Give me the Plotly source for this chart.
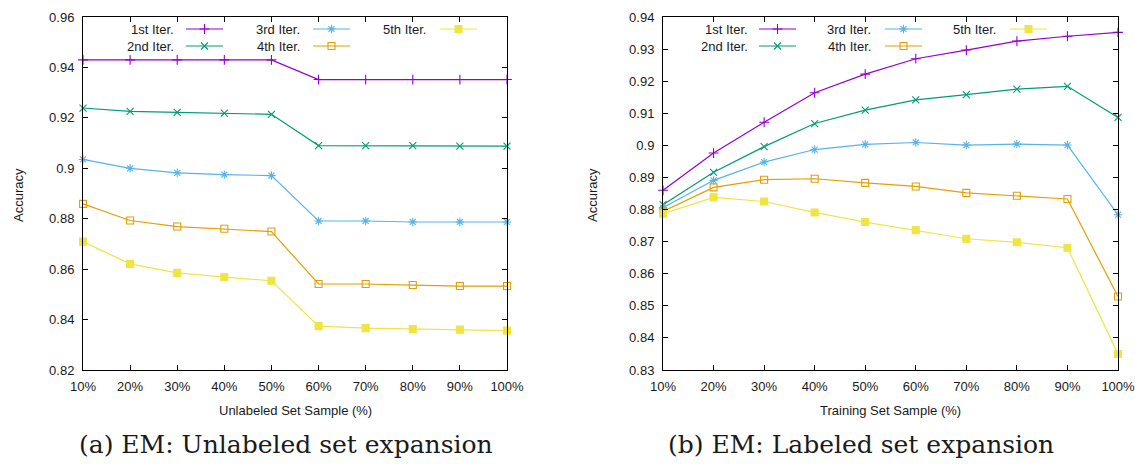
import plotly.graph_objects as go

# ---- data -------------------------------------------------------------
sample_pct = [10, 20, 30, 40, 50, 60, 70, 80, 90, 100]
sample_labels = ["10%", "20%", "30%", "40%", "50%", "60%", "70%", "80%", "90%", "100%"]

iter_names = ["1st Iter.", "2nd Iter.", "3rd Iter.", "4th Iter.", "5th Iter."]

# (a) unlabeled set expansion
unl_iter1 = [0.9430, 0.9430, 0.9430, 0.9430, 0.9430, 0.9352, 0.9352, 0.9352, 0.9352, 0.9352]
unl_iter2 = [0.9239, 0.9226, 0.9222, 0.9219, 0.9214, 0.9090, 0.9090, 0.9090, 0.9088, 0.9088]
unl_iter3 = [0.9035, 0.9000, 0.8982, 0.8975, 0.8971, 0.8791, 0.8791, 0.8787, 0.8787, 0.8787]
unl_iter4 = [0.8859, 0.8793, 0.8769, 0.8760, 0.8749, 0.8541, 0.8541, 0.8537, 0.8533, 0.8533]
unl_iter5 = [0.8709, 0.8621, 0.8585, 0.8568, 0.8554, 0.8374, 0.8366, 0.8362, 0.8360, 0.8356]

# (b) labeled set expansion
lab_iter1 = [0.8860, 0.8976, 0.9072, 0.9164, 0.9222, 0.9270, 0.9297, 0.9325, 0.9340, 0.9352]
lab_iter2 = [0.8815, 0.8916, 0.8996, 0.9068, 0.9110, 0.9142, 0.9158, 0.9175, 0.9184, 0.9087]
lab_iter3 = [0.8806, 0.8891, 0.8948, 0.8987, 0.9003, 0.9009, 0.9001, 0.9004, 0.9001, 0.8784]
lab_iter4 = [0.8794, 0.8869, 0.8893, 0.8896, 0.8883, 0.8872, 0.8852, 0.8843, 0.8833, 0.8529]
lab_iter5 = [0.8787, 0.8838, 0.8825, 0.8791, 0.8761, 0.8736, 0.8709, 0.8698, 0.8681, 0.8350]

unl_ticks = [0.82, 0.84, 0.86, 0.88, 0.90, 0.92, 0.94, 0.96]
unl_ticktext = ["0.82", "0.84", "0.86", "0.88", "0.9", "0.92", "0.94", "0.96"]
lab_ticks = [0.83, 0.84, 0.85, 0.86, 0.87, 0.88, 0.89, 0.90, 0.91, 0.92, 0.93, 0.94]
lab_ticktext = ["0.83", "0.84", "0.85", "0.86", "0.87", "0.88", "0.89", "0.9",
                "0.91", "0.92", "0.93", "0.94"]

# ---- styling ------------------------------------------------------------
W, H = 1135, 472
colors = ["#9400D3", "#009E73", "#56B4E9", "#E69F00", "#F0E442"]
symbols = ["cross-thin", "x-thin", "asterisk", "square-open", "square"]
sizes = [7, 7, 7, 7, 7]
SANS = "Liberation Sans, Arial, sans-serif"
SERIF = "DejaVu Serif, serif"
TXT = "#1a1a1a"

# plot boxes in pixels: (left, right, top, bottom)
box_a = (83, 507, 17, 370)
box_b = (663, 1118, 17, 370)


def dom_x(b):
    return [b[0] / W, b[1] / W]


def dom_y(b):
    return [(H - b[3]) / H, (H - b[2]) / H]


def marker_of(i):
    return dict(symbol=symbols[i], size=sizes[i], color=colors[i],
                line=dict(color=colors[i], width=1.1))


fig = go.Figure()

panels = [
    ("x", "y", [unl_iter1, unl_iter2, unl_iter3, unl_iter4, unl_iter5]),
    ("x2", "y2", [lab_iter1, lab_iter2, lab_iter3, lab_iter4, lab_iter5]),
]
for xa, ya, series in panels:
    for i, vals in enumerate(series):
        fig.add_trace(go.Scatter(
            x=sample_pct, y=vals, name=iter_names[i], mode="lines+markers",
            xaxis=xa, yaxis=ya, showlegend=False, cliponaxis=False,
            line=dict(color=colors[i], width=1.2), marker=marker_of(i)))

# ---- in-plot keys (text on the left, sample on the right) ------------------
key_a = [(176, 186, 223), (302, 313, 350), (428, 440, 477)]
key_b = [(750, 759, 796), (873, 885, 922), (998, 1010, 1047)]
key_slots = [(0, 0), (0, 1), (1, 0), (1, 1), (2, 0)]  # (column, row) per series
key_row_px = [29, 46]

annotations = []
for xa, ya, cols in [("x3", "y3", key_a), ("x4", "y4", key_b)]:
    for i, (c, r) in enumerate(key_slots):
        t_end, l0, l1 = cols[c]
        yy = H - key_row_px[r]
        fig.add_trace(go.Scatter(
            x=[l0, l1], y=[yy, yy], mode="lines", xaxis=xa, yaxis=ya,
            showlegend=False, hoverinfo="skip", cliponaxis=False,
            line=dict(color=colors[i], width=1.2)))
        fig.add_trace(go.Scatter(
            x=[(l0 + l1) / 2], y=[yy], mode="markers", xaxis=xa, yaxis=ya,
            showlegend=False, hoverinfo="skip", cliponaxis=False,
            marker=marker_of(i)))
        annotations.append(dict(
            x=t_end, y=yy, xref=xa, yref=ya, text=iter_names[i],
            showarrow=False, xanchor="right", yanchor="middle",
            font=dict(family=SANS, size=13, color=TXT)))


def paper_text(px, py, text, font, angle=0):
    return dict(x=px / W, y=1 - py / H, xref="paper", yref="paper", text=text,
                textangle=angle, showarrow=False, xanchor="center",
                yanchor="middle", font=font)


label_font = dict(family=SANS, size=13, color=TXT)
caption_font = dict(family=SERIF, size=25, color=TXT)
annotations += [
    paper_text(18, 195, "Accuracy", label_font, -90),
    paper_text(592, 195, "Accuracy", label_font, -90),
    paper_text(295, 410, "Unlabeled Set Sample (%)", label_font),
    paper_text(890, 410, "Training Set Sample (%)", label_font),
    paper_text(286, 444, "(a) EM: Unlabeled set expansion", caption_font),
    paper_text(861, 444, "(b) EM: Labeled set expansion", caption_font),
]

axis_common = dict(showline=True, linecolor="black", linewidth=1, mirror="ticks",
                   ticks="inside", ticklen=5, tickwidth=1, tickcolor="black",
                   showgrid=False, zeroline=False, automargin=False,
                   ticklabeloverflow="allow",
                   tickfont=dict(family=SANS, size=13, color=TXT))
hidden = dict(visible=False, automargin=False, showgrid=False, zeroline=False)

fig.update_layout(
    template="none",
    width=W, height=H,
    margin=dict(l=0, r=0, t=0, b=0, autoexpand=False),
    paper_bgcolor="white", plot_bgcolor="white",
    showlegend=False,
    annotations=annotations,
    xaxis=dict(domain=dom_x(box_a), anchor="y", range=[10, 100],
               tickvals=sample_pct, ticktext=sample_labels,
               ticklabelstandoff=4, **axis_common),
    yaxis=dict(domain=dom_y(box_a), anchor="x", range=[0.82, 0.96],
               tickvals=unl_ticks, ticktext=unl_ticktext,
               ticklabelstandoff=5, **axis_common),
    xaxis2=dict(domain=dom_x(box_b), anchor="y2", range=[10, 100],
                tickvals=sample_pct, ticktext=sample_labels,
                ticklabelstandoff=4, **axis_common),
    yaxis2=dict(domain=dom_y(box_b), anchor="x2", range=[0.83, 0.94],
                tickvals=lab_ticks, ticktext=lab_ticktext,
                ticklabelstandoff=5, **axis_common),
    xaxis3=dict(overlaying="x", anchor="y3", range=[box_a[0], box_a[1]], **hidden),
    yaxis3=dict(overlaying="y", anchor="x3", range=[H - box_a[3], H - box_a[2]], **hidden),
    xaxis4=dict(overlaying="x2", anchor="y4", range=[box_b[0], box_b[1]], **hidden),
    yaxis4=dict(overlaying="y2", anchor="x4", range=[H - box_b[3], H - box_b[2]], **hidden),
)

fig.write_html("out.html")
